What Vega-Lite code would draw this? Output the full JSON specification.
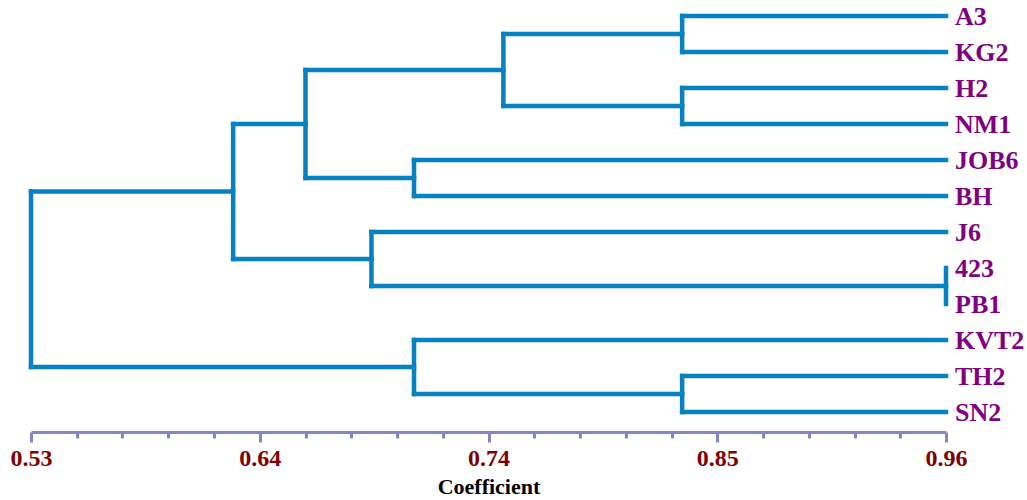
{
  "$schema": "https://vega.github.io/schema/vega-lite/v6.json",
  "autosize": "none",
  "width": 915,
  "height": 432,
  "padding": {"left": 31, "top": 0, "right": 81, "bottom": 68},
  "background": "white",
  "config": {"view": {"stroke": null}},
  "datasets": {
    "segments": [
      {"x": 0.96, "x2": 0.836, "y": 1, "y2": 1},
      {"x": 0.96, "x2": 0.836, "y": 2, "y2": 2},
      {"x": 0.96, "x2": 0.836, "y": 3, "y2": 3},
      {"x": 0.96, "x2": 0.836, "y": 4, "y2": 4},
      {"x": 0.96, "x2": 0.71, "y": 5, "y2": 5},
      {"x": 0.96, "x2": 0.71, "y": 6, "y2": 6},
      {"x": 0.96, "x2": 0.69, "y": 7, "y2": 7},
      {"x": 0.96, "x2": 0.71, "y": 10, "y2": 10},
      {"x": 0.96, "x2": 0.836, "y": 11, "y2": 11},
      {"x": 0.96, "x2": 0.836, "y": 12, "y2": 12},
      {"x": 0.836, "x2": 0.836, "y": 1, "y2": 2},
      {"x": 0.836, "x2": 0.836, "y": 3, "y2": 4},
      {"x": 0.752, "x2": 0.752, "y": 1.5, "y2": 3.5},
      {"x": 0.71, "x2": 0.71, "y": 5, "y2": 6},
      {"x": 0.659, "x2": 0.659, "y": 2.5, "y2": 5.5},
      {"x": 0.96, "x2": 0.96, "y": 8, "y2": 9},
      {"x": 0.69, "x2": 0.69, "y": 7, "y2": 8.5},
      {"x": 0.625, "x2": 0.625, "y": 4, "y2": 7.75},
      {"x": 0.836, "x2": 0.836, "y": 11, "y2": 12},
      {"x": 0.71, "x2": 0.71, "y": 10, "y2": 11.5},
      {"x": 0.53, "x2": 0.53, "y": 5.875, "y2": 10.75},
      {"x": 0.836, "x2": 0.752, "y": 1.5, "y2": 1.5},
      {"x": 0.836, "x2": 0.752, "y": 3.5, "y2": 3.5},
      {"x": 0.752, "x2": 0.659, "y": 2.5, "y2": 2.5},
      {"x": 0.71, "x2": 0.659, "y": 5.5, "y2": 5.5},
      {"x": 0.659, "x2": 0.625, "y": 4, "y2": 4},
      {"x": 0.96, "x2": 0.69, "y": 8.5, "y2": 8.5},
      {"x": 0.69, "x2": 0.625, "y": 7.75, "y2": 7.75},
      {"x": 0.625, "x2": 0.53, "y": 5.875, "y2": 5.875},
      {"x": 0.836, "x2": 0.71, "y": 11.5, "y2": 11.5},
      {"x": 0.71, "x2": 0.53, "y": 10.75, "y2": 10.75}
    ],
    "leaves": [
      {"name": "A3", "order": 1},
      {"name": "KG2", "order": 2},
      {"name": "H2", "order": 3},
      {"name": "NM1", "order": 4},
      {"name": "JOB6", "order": 5},
      {"name": "BH", "order": 6},
      {"name": "J6", "order": 7},
      {"name": "423", "order": 8},
      {"name": "PB1", "order": 9},
      {"name": "KVT2", "order": 10},
      {"name": "TH2", "order": 11},
      {"name": "SN2", "order": 12}
    ]
  },
  "layer": [
    {
      "data": {"name": "segments"},
      "mark": {"type": "rule", "color": "#0681c2", "strokeWidth": 4.5, "strokeCap": "square"},
      "encoding": {
        "x": {
          "field": "x", "type": "quantitative",
          "scale": {"domain": [0.53, 0.96], "nice": false, "zero": false},
          "axis": {
            "values": [0.53, 0.5515, 0.573, 0.5945, 0.616, 0.6375, 0.659, 0.6805, 0.702, 0.7235, 0.745, 0.7665, 0.788, 0.8095, 0.831, 0.8525, 0.874, 0.8955, 0.917, 0.9385, 0.96],
            "labelExpr": "round((datum.value - 0.53) / 0.0215) % 5 == 0 ? format(datum.value, '.2f') : ''",
            "labelOverlap": false,
            "labelFlush": false,
            "labelFont": "Liberation Serif",
            "labelFontWeight": "bold",
            "labelFontSize": 24,
            "labelColor": "#800000",
            "labelPadding": 4,
            "domainColor": "#8585c8",
            "domainWidth": 3,
            "tickColor": "#8585c8",
            "tickWidth": 3,
            "tickSize": {"condition": {"test": "round((datum.value - 0.53) / 0.0215) % 5 == 0", "value": 10}, "value": 6},
            "grid": false,
            "title": "Coefficient",
            "titleFont": "Liberation Serif",
            "titleFontWeight": "bold",
            "titleFontSize": 22,
            "titleColor": "#000000",
            "titlePadding": 6
          }
        },
        "x2": {"field": "x2"},
        "y": {
          "field": "y", "type": "quantitative",
          "scale": {"domain": [12.5556, 0.5556], "nice": false, "zero": false},
          "axis": null
        },
        "y2": {"field": "y2"}
      }
    },
    {
      "data": {"name": "leaves"},
      "mark": {"type": "text", "align": "left", "baseline": "middle", "dx": 9, "dy": 1, "font": "Liberation Serif", "fontWeight": "bold", "fontSize": 26, "color": "#800080"},
      "encoding": {
        "x": {"datum": 0.96, "type": "quantitative"},
        "y": {"field": "order", "type": "quantitative"},
        "text": {"field": "name"}
      }
    }
  ]
}
